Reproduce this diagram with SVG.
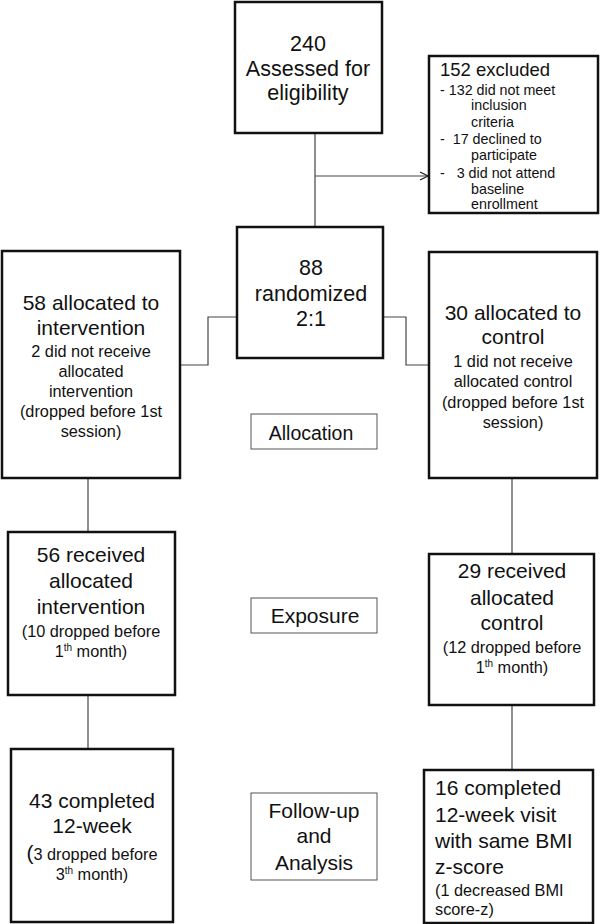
<svg xmlns="http://www.w3.org/2000/svg" width="600" height="924" viewBox="0 0 600 924">
<style>
.box{fill:#fff;stroke:#111;stroke-width:2.5}
.lbl{fill:#fff;stroke:#555;stroke-width:1}
.ln{fill:none;stroke:#444;stroke-width:1.2}
text{font-family:"Liberation Sans",Arial,sans-serif;fill:#111}
.c{text-anchor:middle}
.b{font-size:21px}
.s{font-size:16.3px}
.sup{font-size:10px}
</style>
<defs>
<marker id="ah" markerWidth="10" markerHeight="10" refX="9" refY="5" orient="auto" markerUnits="userSpaceOnUse">
<path d="M1,1 L9,5 L1,9" fill="none" stroke="#222" stroke-width="1.2"/>
</marker>
</defs>
<rect width="600" height="924" fill="#fff"/>
<g id="connectors">
<line class="ln" x1="315" y1="133" x2="315" y2="227"/>
<line class="ln" x1="315" y1="176" x2="428" y2="176" marker-end="url(#ah)"/>
<polyline class="ln" points="180,365 208,365 208,317 237,317"/>
<polyline class="ln" points="383,317 406,317 406,365 429,365"/>
<line class="ln" x1="88" y1="478" x2="88" y2="532"/>
<line class="ln" x1="512" y1="478" x2="512" y2="554"/>
<line class="ln" x1="88" y1="695" x2="88" y2="749"/>
<line class="ln" x1="512" y1="705" x2="512" y2="770"/>
</g>
<g id="assessed">
<rect class="box" x="235" y="2" width="147" height="131"/>
<text class="c" style="font-size:21.5px"><tspan x="308" y="51">240</tspan><tspan x="308" y="76">Assessed for</tspan><tspan x="308" y="100">eligibility</tspan></text>
</g>
<g id="excluded">
<rect class="box" x="429" y="56" width="169" height="157"/>
<text x="440" y="76" style="font-size:18.5px">152 excluded</text>
<text xml:space="preserve" style="font-size:14.3px;white-space:pre"><tspan x="440" y="95">- 132 did not meet</tspan><tspan x="471" y="110">inclusion</tspan><tspan x="471" y="127">criteria</tspan><tspan x="440" y="144">-  17 declined to</tspan><tspan x="471" y="160">participate</tspan><tspan x="440" y="178">-   3 did not attend</tspan><tspan x="471" y="194">baseline</tspan><tspan x="471" y="209">enrollment</tspan></text>
</g>
<g id="randomized">
<rect class="box" x="237" y="227" width="146" height="131"/>
<text class="c" style="font-size:21.5px"><tspan x="311" y="275">88</tspan><tspan x="311" y="301">randomized</tspan><tspan x="311" y="326">2:1</tspan></text>
</g>
<g id="alloc-int">
<rect class="box" x="2" y="251" width="178" height="227"/>
<text class="c b"><tspan x="91" y="310">58 allocated to</tspan><tspan x="91" y="335">intervention</tspan></text>
<text class="c s"><tspan x="91" y="357">2 did not receive</tspan><tspan x="91" y="377">allocated</tspan><tspan x="91" y="397">intervention</tspan><tspan x="91" y="417">(dropped before 1st</tspan><tspan x="91" y="437">session)</tspan></text>
</g>
<g id="alloc-ctl">
<rect class="box" x="429" y="252" width="168" height="226"/>
<text class="c b"><tspan x="513" y="320">30 allocated to</tspan><tspan x="513" y="344">control</tspan></text>
<text class="c s"><tspan x="513" y="367">1 did not receive</tspan><tspan x="513" y="387">allocated control</tspan><tspan x="513" y="408">(dropped before 1st</tspan><tspan x="513" y="428">session)</tspan></text>
</g>
<g id="allocation">
<rect class="lbl" x="251" y="414" width="126" height="35"/>
<text class="c" x="311" y="440" style="font-size:19.5px">Allocation</text>
</g>
<g id="recv-int">
<rect class="box" x="8" y="532" width="167" height="163"/>
<text class="c b"><tspan x="91" y="562">56 received</tspan><tspan x="91" y="588">allocated</tspan><tspan x="91" y="614">intervention</tspan></text>
<text class="c s"><tspan x="91" y="637">(10 dropped before</tspan><tspan x="91" y="657">1<tspan class="sup" dy="-6">th</tspan><tspan dy="6"> month)</tspan></tspan></text>
</g>
<g id="recv-ctl">
<rect class="box" x="429" y="554" width="165" height="151"/>
<text class="c b"><tspan x="512" y="578">29 received</tspan><tspan x="512" y="605">allocated</tspan><tspan x="512" y="630">control</tspan></text>
<text class="c s"><tspan x="512" y="653">(12 dropped before</tspan><tspan x="512" y="673">1<tspan class="sup" dy="-6">th</tspan><tspan dy="6"> month)</tspan></tspan></text>
</g>
<g id="exposure">
<rect class="lbl" x="251" y="598" width="126" height="35"/>
<text class="c" x="315" y="623" style="font-size:21px">Exposure</text>
</g>
<g id="comp-int">
<rect class="box" x="11" y="749" width="162" height="173"/>
<text class="c b"><tspan x="92" y="808">43 completed</tspan><tspan x="92" y="833">12-week</tspan></text>
<text class="c s"><tspan x="92" y="860"><tspan style="font-size:21px">(</tspan>3 dropped before</tspan><tspan x="92" y="880">3<tspan class="sup" dy="-6">th</tspan><tspan dy="6"> month)</tspan></tspan></text>
</g>
<g id="comp-ctl">
<rect class="box" x="424" y="770" width="169" height="153"/>
<text class="b"><tspan x="435" y="795">16 completed</tspan><tspan x="435" y="822">12-week visit</tspan><tspan x="435" y="848">with same BMI</tspan><tspan x="435" y="874">z-score</tspan></text>
<text class="s"><tspan x="435" y="896">(1 decreased BMI</tspan><tspan x="435" y="915">score-z)</tspan></text>
</g>
<g id="followup">
<rect class="lbl" x="251" y="793" width="126" height="87"/>
<text class="c" style="font-size:21px"><tspan x="314" y="818">Follow-up</tspan><tspan x="314" y="843">and</tspan><tspan x="314" y="870">Analysis</tspan></text>
</g>
</svg>
